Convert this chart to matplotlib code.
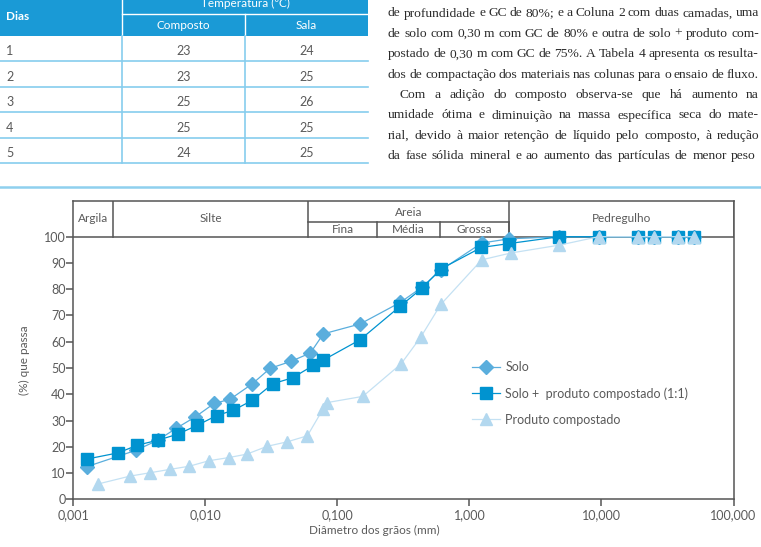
import numpy as np
import matplotlib
matplotlib.use("Agg")
import matplotlib.pyplot as plt
from matplotlib.patches import Rectangle
from matplotlib.ticker import FixedLocator, FuncFormatter, NullLocator

# ---- data ----
dias = [1, 2, 3, 4, 5]
temp_composto = [23, 23, 25, 25, 24]
temp_sala = [24, 25, 26, 25, 25]

solo_d = [0.00126, 0.0030, 0.00436, 0.0060, 0.0084, 0.01165, 0.0154, 0.0227, 0.031,
          0.0443, 0.0624, 0.0783, 0.149, 0.30, 0.4355, 0.607, 1.24, 2.0,
          4.8, 9.5, 19.0, 25.0, 38.0, 50.0]
solo_p = [12.4, 18.7, 22.5, 27.0, 31.4, 36.5, 38.1, 44.0, 49.9,
          52.5, 55.7, 63.0, 66.8, 75.0, 80.7, 87.3, 97.6, 99.2,
          100, 100, 100, 100, 100, 100]

mist_d = [0.00126, 0.00219, 0.00305, 0.00436, 0.00618, 0.0087, 0.0122, 0.0163, 0.0227,
          0.0324, 0.0459, 0.0658, 0.0775, 0.149, 0.30, 0.4355, 0.607, 1.23, 2.0,
          4.8, 9.5, 19.0, 25.0, 38.0, 50.0]
mist_p = [15.3, 17.7, 20.6, 22.5, 24.8, 28.2, 31.9, 33.9, 37.7,
          44.0, 46.3, 51.0, 52.9, 60.8, 73.6, 80.3, 87.7, 95.9, 97.4,
          100, 100, 100, 100, 100, 100]

comp_d = [0.00153, 0.00267, 0.0038, 0.0054, 0.00757, 0.01067, 0.0151, 0.0206, 0.0295,
          0.0418, 0.0593, 0.0775, 0.083, 0.156, 0.304, 0.4285, 0.607, 1.24, 2.06,
          4.8, 9.5, 19.0, 25.0, 38.0, 50.0]
comp_p = [5.8, 8.8, 10.1, 11.4, 12.6, 14.7, 15.9, 17.2, 20.2,
          21.9, 24.2, 34.2, 36.8, 39.2, 51.6, 61.8, 74.2, 91.2, 93.8,
          96.8, 100, 100, 100, 100, 100]

x_ticks = [0.001, 0.01, 0.1, 1, 10, 100]
y_ticks = list(range(0, 101, 10))

classes = [("Argila", 0.001, 0.002), ("Silte", 0.002, 0.06),
           ("Areia", 0.06, 2.0), ("Pedregulho", 2.0, 100)]
areia_sub = [("Fina", 0.06, 0.2), ("Média", 0.2, 0.6), ("Grossa", 0.6, 2.0)]

text_lines = [
    "de profundidade e GC de 80%; e a Coluna 2 com duas camadas, uma",
    "de solo com 0,30 m com GC de 80% e outra de solo + produto com-",
    "postado de 0,30 m com GC de 75%. A Tabela 4 apresenta os resulta-",
    "dos de compactação dos materiais nas colunas para o ensaio de fluxo.",
    "Com a adição do composto observa-se que há aumento na",
    "umidade ótima e diminuição na massa específica seca do mate-",
    "rial, devido à maior retenção de líquido pelo composto, à redução",
    "da fase sólida mineral e ao aumento das partículas de menor peso",
]

# ---- style ----
SANS = ["Lato", "DejaVu Sans"]
plt.rcParams["font.family"] = SANS
c_text = "#5a5a5a"
c_axis = "#555555"
c_solo = "#5AAEDD"
c_mist = "#0093D0"
c_comp = "#B3D8EF"
c_comp_line = "#C4E1F3"
c_head = "#1A9AD6"
c_rule = "#86CDEE"

W, H = 761, 547
fig = plt.figure(figsize=(W / 100, H / 100), dpi=100)

# page layer in pixel units (table, text, separator)
bg = fig.add_axes([0, 0, 1, 1])
bg.set_xlim(0, W)
bg.set_ylim(H, 0)
bg.axis("off")

col_x = [0, 122, 245, 368]
head_h = 35.7
row_h = 25.5
bg.add_patch(Rectangle((0, 0), col_x[3], head_h, color=c_head, lw=0))
bg.plot([col_x[1], col_x[1]], [0, head_h], color="white", lw=1)
bg.plot([col_x[2], col_x[2]], [14.3, head_h], color="white", lw=1)
bg.plot([col_x[1], col_x[3]], [14.3, 14.3], color="white", lw=1)
bg.text(6, 17, "Dias", color="white", fontsize=8.5, va="center", fontweight="bold")
bg.text(col_x[2], 3.5, "Temperatura (ºC)", color="white", fontsize=8.5, va="center", ha="center")
bg.text((col_x[1] + col_x[2]) / 2, 25.5, "Composto", color="white", fontsize=8.5, va="center", ha="center")
bg.text((col_x[2] + col_x[3]) / 2, 25.5, "Sala", color="white", fontsize=8.5, va="center", ha="center")
n_rows = len(dias)
for i in range(n_rows):
    y_bot = head_h + row_h * (i + 1)
    yc = head_h + row_h * i + 15.5
    bg.plot([0, col_x[3]], [y_bot, y_bot], color=c_rule, lw=1.2)
    bg.text(6, yc, str(dias[i]), color=c_text, fontsize=9, va="center")
    bg.text((col_x[1] + col_x[2]) / 2, yc, str(temp_composto[i]), color=c_text, fontsize=9, va="center", ha="center")
    bg.text((col_x[2] + col_x[3]) / 2, yc, str(temp_sala[i]), color=c_text, fontsize=9, va="center", ha="center")
for cx in col_x[1:3]:
    bg.plot([cx, cx], [head_h, head_h + row_h * n_rows], color=c_rule, lw=1.2)

bg.plot([0, W], [186.5, 186.5], color="#8FD0EE", lw=1.8)

# justified serif paragraph
renderer = fig.canvas.get_renderer()
serif_kw = dict(fontsize=9.7, family="Liberation Serif", color="#2a2a2a", va="baseline")
for i, line in enumerate(text_lines):
    x0 = 400 if i == 4 else 388
    x1 = 759 if i < 7 else 756
    y = 16.5 + 20.4 * i
    words = line.split(" ")
    objs = [bg.text(0, y, w, **serif_kw) for w in words]
    widths = [o.get_window_extent(renderer).width for o in objs]
    gap = (x1 - x0 - sum(widths)) / (len(words) - 1)
    x = x0
    for o, w in zip(objs, widths):
        o.set_x(x)
        x += w + gap

# ---- chart ----
ax = fig.add_axes([73.3 / W, 47.7 / H, 660.2 / W, 298.3 / H])
ax.set_xscale("log")
ax.set_xlim(0.001, 100)
ax.set_ylim(0, 113.6)

ax.plot(solo_d, solo_p, color=c_solo, lw=0.9, marker="D", ms=7, mec=c_solo, mfc=c_solo,
        label="Solo", zorder=3, clip_on=False)
ax.plot(mist_d, mist_p, color=c_mist, lw=0.9, marker="s", ms=8.5, mec=c_mist, mfc=c_mist,
        label="Solo +  produto compostado (1:1)", zorder=4, clip_on=False)
ax.plot(comp_d, comp_p, color=c_comp_line, lw=0.9, marker="^", ms=8.5, mec=c_comp, mfc=c_comp,
        label="Produto compostado", zorder=5, clip_on=False)

# header band of grain classes
lw_b = 1.1
ax.axhline(100, color=c_axis, lw=lw_b, zorder=2)
for name, lo, hi in classes:
    ax.plot([hi, hi], [100, 113.6], color=c_axis, lw=lw_b, zorder=2)
    yl = 109.3 if name == "Areia" else 107.0
    ax.text(np.sqrt(lo * hi), yl, name, ha="center", va="center", fontsize=8.5, color=c_text)
ax.plot([areia_sub[0][1], areia_sub[-1][2]], [105.7, 105.7], color=c_axis, lw=lw_b, zorder=2)
for name, lo, hi in areia_sub:
    ax.plot([hi, hi], [100, 105.7], color=c_axis, lw=lw_b, zorder=2)
    ax.text(np.sqrt(lo * hi), 102.9, name, ha="center", va="center", fontsize=8.5, color=c_text)

for s in ax.spines.values():
    s.set_color(c_axis)
    s.set_linewidth(lw_b)

ax.xaxis.set_major_locator(FixedLocator(x_ticks))
ax.xaxis.set_minor_locator(NullLocator())
ax.xaxis.set_major_formatter(FuncFormatter(lambda v, p: f"{v:.3f}".replace(".", ",")))
ax.yaxis.set_major_locator(FixedLocator(y_ticks))
ax.tick_params(axis="both", colors=c_axis, labelcolor=c_text, labelsize=9, length=5, width=1.1)
ax.tick_params(axis="y", pad=0.5)
ax.tick_params(axis="x", pad=2)

ax.set_xlabel("Diâmetro dos grãos (mm)", fontsize=8.5, color=c_text)
ax.xaxis.set_label_coords((374 - 73.3) / 660.2, -(530 - 499.3) / 298.3)
ax.xaxis.label.set_va("center")
ax.set_ylabel("(%) que passa", fontsize=8.5, color=c_text)
ax.yaxis.set_label_coords(-(73.3 - 24) / 660.2, (547 - 360 - 47.7) / 298.3)
ax.yaxis.label.set_va("center")

ax.legend(loc="upper left", bbox_to_anchor=(472 / W, 1 - 361 / H), bbox_transform=fig.transFigure,
          frameon=False, fontsize=9, labelcolor=c_text, handlelength=2.2, handletextpad=0.45,
          labelspacing=1.12, borderpad=0, borderaxespad=0)

fig.savefig("out.png", dpi=100)
